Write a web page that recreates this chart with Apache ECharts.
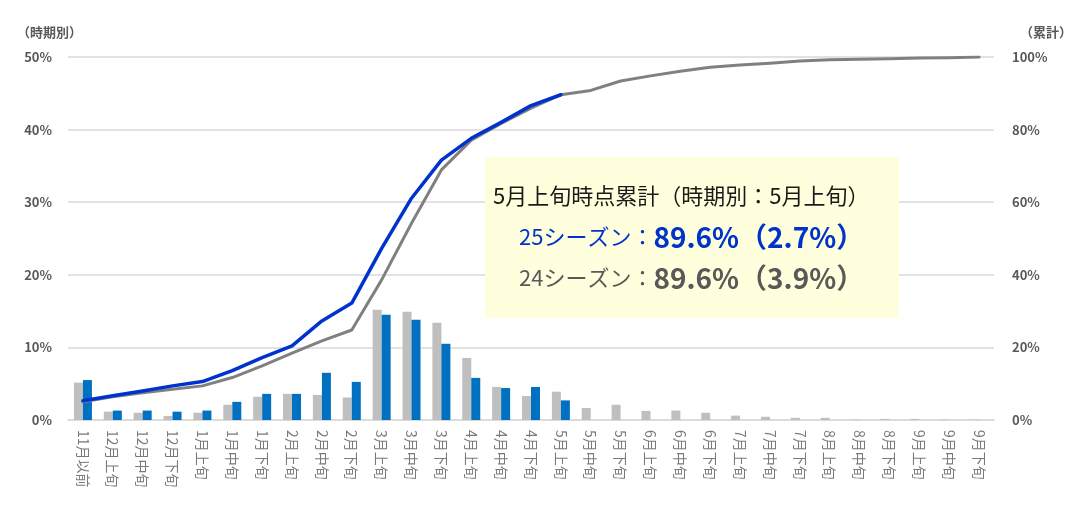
<!DOCTYPE html>
<html>
<head>
<meta charset="utf-8">
<script src="https://cdn.jsdelivr.net/npm/echarts@6/dist/echarts.min.js"></script>
<style>
html,body{margin:0;padding:0;background:#fff;}
#c{width:1084px;height:510px;}
</style>
</head>
<body>
<div id="c"></div>
<script>
const categories = ['11月以前','12月上旬','12月中旬','12月下旬','1月上旬','1月中旬','1月下旬','2月上旬','2月中旬','2月下旬','3月上旬','3月中旬','3月下旬','4月上旬','4月中旬','4月下旬','5月上旬','5月中旬','5月下旬','6月上旬','6月中旬','6月下旬','7月上旬','7月中旬','7月下旬','8月上旬','8月中旬','8月下旬','9月上旬','9月中旬','9月下旬'];
const bar24 = [5.15,1.15,1.0,0.55,1.0,2.1,3.2,3.6,3.45,3.1,15.2,14.9,13.4,8.55,4.55,3.3,3.9,1.65,2.1,1.25,1.3,1.0,0.6,0.45,0.3,0.3,0.05,0.15,0.15,0.05,0.05];
const bar25 = [5.5,1.3,1.3,1.15,1.3,2.5,3.6,3.6,6.5,5.25,14.5,13.8,10.5,5.8,4.4,4.55,2.7];
const cum24 = [5.0,6.4,7.5,8.5,9.4,11.7,14.9,18.4,21.8,24.8,38.6,54.2,68.9,77.1,81.7,85.9,89.6,90.8,93.4,94.8,96.1,97.2,97.8,98.3,98.9,99.25,99.4,99.5,99.7,99.8,100];
const cum25 = [5.3,6.7,8.0,9.4,10.6,13.6,17.2,20.4,27.3,32.2,47.3,61.1,71.6,77.6,82.0,86.6,89.6];
const leftTicks = {min:0, max:50, interval:10};
const rightTicks = {min:0, max:100, interval:20};
const leftName = '（時期別）';
const rightName = '（累計）';
const noteTitle = '5月上旬時点累計（時期別：5月上旬）';
const note25 = ['25シーズン：', '89.6%（2.7%）'];
const note24 = ['24シーズン：', '89.6%（3.9%）'];

const FONT = '"Noto Sans CJK JP", "Noto Sans", sans-serif';
const chart = echarts.init(document.getElementById('c'), null, {renderer:'canvas'});
chart.setOption({
  animation:false,
  backgroundColor:'#ffffff',
  textStyle:{fontFamily:FONT},
  grid:{left:68, right:90, top:57, bottom:90, containLabel:false},
  xAxis:{
    type:'category', data:categories, boundaryGap:true,
    axisLine:{show:true, lineStyle:{color:'#D9D9D9', width:1.5}},
    axisTick:{show:false},
    axisLabel:{rotate:-90, interval:0, margin:10, color:'#7A7A7A', fontSize:14, fontFamily:FONT}
  },
  yAxis:[
    {type:'value', min:leftTicks.min, max:leftTicks.max, interval:leftTicks.interval,
     axisLine:{show:false}, axisTick:{show:false},
     splitLine:{show:true, lineStyle:{color:'#D9D9D9', width:1.5}},
     axisLabel:{formatter:'{value}%', margin:16, color:'#595959', fontSize:13, fontWeight:'bold', fontFamily:FONT}},
    {type:'value', min:rightTicks.min, max:rightTicks.max, interval:rightTicks.interval,
     axisLine:{show:false}, axisTick:{show:false}, splitLine:{show:false},
     axisLabel:{formatter:'{value}%', margin:18, color:'#595959', fontSize:13, fontWeight:'bold', fontFamily:FONT}}
  ],
  series:[
    {name:'24時期別', type:'bar', data:bar24, barWidth:9, barGap:'0%', itemStyle:{color:'#BFBFBF'}, z:2},
    {name:'25時期別', type:'bar', data:bar25, barWidth:9, barGap:'0%', itemStyle:{color:'#0070C0'}, z:2},
    {name:'24累計', type:'line', yAxisIndex:1, data:cum24, symbol:'none', lineStyle:{color:'#808080', width:3, cap:'round', join:'round'}, z:3},
    {name:'25累計', type:'line', yAxisIndex:1, data:cum25, symbol:'none', lineStyle:{color:'#0033CC', width:3.5, cap:'round', join:'round'}, z:4}
  ],
  graphic:[
    {type:'text', left:17, top:26, style:{text:leftName, fill:'#595959', font:'bold 13px '+FONT}},
    {type:'text', right:12, top:26, style:{text:rightName, fill:'#595959', font:'bold 13px '+FONT}},
    {type:'rect', z:10, shape:{x:485, y:157, width:414, height:161}, style:{fill:'#FFFFDD'}},
    {type:'text', z:11, x:493, y:196, style:{text:noteTitle, fill:'#1a1a1a', font:'22px '+FONT, verticalAlign:'middle'}},
    {type:'text', z:11, x:519, y:237, style:{
      text:'{a|'+note25[0]+'}{b|'+note25[1]+'}', verticalAlign:'middle',
      rich:{a:{fill:'#0033CC', fontSize:22, fontFamily:FONT}, b:{fill:'#0033CC', fontSize:28, fontWeight:'bold', fontFamily:FONT}}}},
    {type:'text', z:11, x:519, y:278, style:{
      text:'{a|'+note24[0]+'}{b|'+note24[1]+'}', verticalAlign:'middle',
      rich:{a:{fill:'#595959', fontSize:22, fontFamily:FONT}, b:{fill:'#595959', fontSize:28, fontWeight:'bold', fontFamily:FONT}}}}
  ]
});
</script>
</body>
</html>
